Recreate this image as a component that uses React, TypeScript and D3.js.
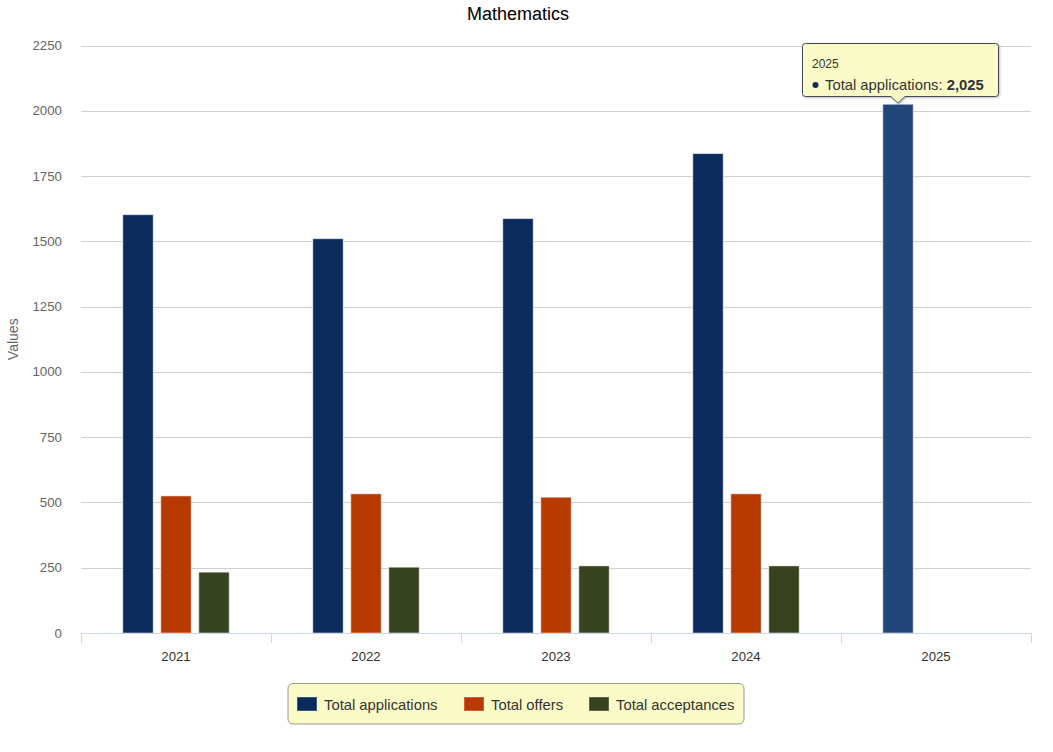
import React from "react";
import * as d3 from "d3";

const categories = ["2021", "2022", "2023", "2024", "2025"];
const seriesNames = ["Total applications", "Total offers", "Total acceptances"];
const applications: (number | null)[] = [1602, 1510, 1587, 1836, 2025];
const offers: (number | null)[] = [525, 533, 520, 533, null];
const acceptances: (number | null)[] = [233, 252, 257, 257, null];
const seriesColors = ["#0b2b5c", "#b83a03", "#37421f"];
const hoverColor = "#22467a";
const yTicks = [0, 250, 500, 750, 1000, 1250, 1500, 1750, 2000, 2250];

const W = 1053;
const H = 752;
const font = "'Liberation Sans', Arial, sans-serif";

export default function App() {
  const left = 81;
  const right = 1031;
  const top = 45.5;
  const bottom = 633;
  const y = d3.scaleLinear().domain([0, 2250]).range([bottom, top]);
  const x = d3.scaleBand<string>().domain(categories).range([left, right]).paddingInner(0).paddingOuter(0);
  const inner = d3
    .scaleBand<number>()
    .domain([0, 1, 2])
    .range([x.bandwidth() * 0.2, x.bandwidth() * 0.8])
    .paddingInner(0.2)
    .paddingOuter(0.1);
  const series = [applications, offers, acceptances];
  const hoverIdx = 4;
  const hx = (x("2025") as number) + (inner(0) as number) + inner.bandwidth() / 2;
  const hy = y(applications[4] as number);

  const legendX = [297, 464, 589];

  return (
    <svg width={W} height={H} style={{ position: "absolute", left: 0, top: 0, fontFamily: font }}>
      <defs>
        <filter id="sh" x="-10%" y="-10%" width="130%" height="140%">
          <feDropShadow dx="1" dy="1" stdDeviation="1.2" floodColor="#000" floodOpacity="0.25" />
        </filter>
      </defs>
      <rect width={W} height={H} fill="#fff" />
      <text x={518} y={20} textAnchor="middle" fontSize={18} fill="#000">
        Mathematics
      </text>
      {yTicks.map((t) => (
        <g key={t}>
          {t > 0 && (
            <line x1={left} x2={right} y1={Math.round(y(t)) + 0.5} y2={Math.round(y(t)) + 0.5} stroke="#d0d0d0" />
          )}
          <text x={62} y={y(t) + 4.5} textAnchor="end" fontSize={13.3} fill="#666">
            {t}
          </text>
        </g>
      ))}
      <text
        transform={`translate(18,${(top + bottom) / 2}) rotate(-90)`}
        textAnchor="middle"
        fontSize={14}
        fill="#666"
      >
        Values
      </text>
      {categories.map((c, ci) =>
        series.map((s, si) => {
          const v = s[ci];
          if (v == null) return null;
          const bx = (x(c) as number) + (inner(si) as number);
          const isHover = ci === hoverIdx && si === 0;
          return (
            <rect
              key={c + si}
              x={bx}
              y={y(v)}
              width={inner.bandwidth()}
              height={bottom - y(v)}
              fill={isHover ? hoverColor : seriesColors[si]}
              stroke="#ffffff"
              strokeOpacity={0.5}
              strokeWidth={1}
            />
          );
        })
      )}
      <line x1={left} x2={right} y1={bottom + 0.5} y2={bottom + 0.5} stroke="#ccd6eb" />
      {d3.range(categories.length + 1).map((i) => {
        const tx = Math.round(left + i * x.bandwidth()) + 0.5;
        return <line key={i} x1={tx} x2={tx} y1={bottom} y2={bottom + 10} stroke="#ccd6eb" />;
      })}
      {categories.map((c) => (
        <text key={c} x={(x(c) as number) + x.bandwidth() / 2} y={661} textAnchor="middle" fontSize={13.2} fill="#333">
          {c}
        </text>
      ))}
      <rect x={288} y={683.5} width={456} height={40.5} rx={5} fill="#fbfbc8" stroke="#999" strokeWidth={1} />
      {seriesNames.map((n, i) => (
        <g key={n}>
          <rect x={legendX[i]} y={697} width={20} height={14} fill={seriesColors[i]} stroke="#fff" strokeOpacity={0.4} />
          <text x={legendX[i] + 27} y={710} fontSize={14.8} fill="#333">
            {n}
          </text>
        </g>
      ))}
      <g filter="url(#sh)">
        <path
          d={`M 805.5 43.5 L 995.5 43.5 Q 998.5 43.5 998.5 46.5 L 998.5 93.5 Q 998.5 96.5 995.5 96.5 L ${hx + 7} 96.5 L ${hx} ${hy - 1} L ${hx - 7} 96.5 L 805.5 96.5 Q 802.5 96.5 802.5 93.5 L 802.5 46.5 Q 802.5 43.5 805.5 43.5 Z`}
          fill="#fbfbc8"
          stroke="#3f4a55"
          strokeWidth={1}
        />
      </g>
      <text x={812} y={68} fontSize={12} fill="#333">
        {categories[4]}
      </text>
      <circle cx={815.5} cy={85} r={3} fill={seriesColors[0]} />
      <text x={825} y={90} fontSize={14.8} fill="#333">
        {seriesNames[0]}:{" "}
        <tspan fontWeight="bold">{d3.format(",")(applications[4] as number)}</tspan>
      </text>
    </svg>
  );
}
